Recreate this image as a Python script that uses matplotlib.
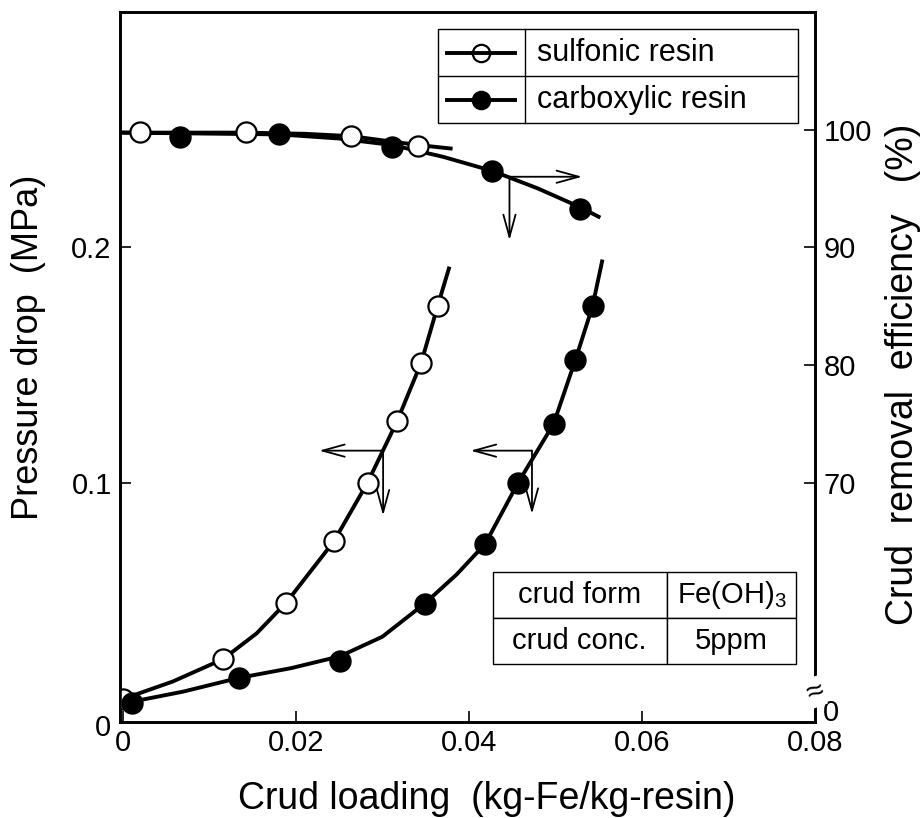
import matplotlib
matplotlib.use("Agg")
import matplotlib.pyplot as plt
from matplotlib.patches import Rectangle
from matplotlib.lines import Line2D

plt.rcParams["font.family"] = ["Liberation Sans", "DejaVu Sans"]
plt.rcParams["mathtext.fontset"] = "custom"
plt.rcParams["mathtext.rm"] = "Liberation Sans"

# pressure drop (left axis) vs crud loading
sulf_load = [0.0, 0.0116, 0.0189, 0.0244, 0.0283, 0.0317, 0.0345, 0.0364]
sulf_dp = [0.008, 0.025, 0.049, 0.075, 0.100, 0.126, 0.151, 0.175]
carb_load = [0.0011, 0.0134, 0.0251, 0.0349, 0.0419, 0.0457, 0.0498, 0.0523, 0.0543]
carb_dp = [0.0065, 0.017, 0.024, 0.0486, 0.074, 0.100, 0.125, 0.152, 0.175]

# crud removal efficiency (right axis)
sulf_eff_load = [0.0020, 0.0142, 0.0264, 0.0341]
sulf_eff = [99.8, 99.8, 99.5, 98.6]
carb_eff_load = [0.0066, 0.0181, 0.0311, 0.0427, 0.0529]
carb_eff = [99.4, 99.6, 98.5, 96.5, 93.3]

# fitted curves as drawn in the figure (traced vertices)
sulf_dp_fit_x = [0.0, 0.0058, 0.0116, 0.0155, 0.0189, 0.0244, 0.0283, 0.0317, 0.0345, 0.0364, 0.0377]
sulf_dp_fit_y = [0.008, 0.0155, 0.025, 0.036, 0.049, 0.075, 0.100, 0.126, 0.151, 0.175, 0.191]
carb_dp_fit_x = [0.0005, 0.0070, 0.0134, 0.0195, 0.0251, 0.0300, 0.0349, 0.0386, 0.0419, 0.0457,
                 0.0498, 0.0523, 0.0543, 0.0554]
carb_dp_fit_y = [0.0065, 0.0112, 0.017, 0.0212, 0.0262, 0.0345, 0.0486, 0.061, 0.074, 0.100,
                 0.125, 0.152, 0.175, 0.194]
sulf_eff_fit_x = [0.0, 0.0142, 0.0210, 0.0264, 0.0341, 0.0379]
sulf_eff_fit_y = [99.75, 99.75, 99.65, 99.45, 98.7, 98.4]
carb_eff_fit_x = [0.0, 0.0181, 0.0250, 0.0311, 0.0370, 0.0427, 0.0480, 0.0529, 0.0550]
carb_eff_fit_y = [99.75, 99.6, 99.25, 98.7, 97.7, 96.5, 95.0, 93.4, 92.6]

# direction arrows (corner, tip) in loading / pressure units
arrows = [
    ((0.0447, 0.230), (0.0531, 0.230)),
    ((0.0447, 0.230), (0.0447, 0.203)),
    ((0.0301, 0.1136), (0.0227, 0.1136)),
    ((0.0301, 0.1136), (0.0301, 0.086)),
    ((0.0473, 0.1136), (0.0402, 0.1136)),
    ((0.0473, 0.1136), (0.0473, 0.0867)),
]

series_labels = ["sulfonic resin", "carboxylic resin"]
cond_rows = [["crud form", "Fe(OH)$_3$"], ["crud conc.", "5ppm"]]

x_ticks = [0, 0.02, 0.04, 0.06, 0.08]
dp_ticks = [0.1, 0.2]
eff_ticks = [70, 80, 90, 100]

fig = plt.figure(figsize=(9.24, 8.18), dpi=100)
ax = fig.add_axes([0.1299, 0.1174, 0.8820 - 0.1299, 0.9853 - 0.1174])
ax2 = ax.twinx()

ax.set_xlim(-0.0003, 0.08)
ax.set_ylim(-0.0017, 0.3)
ax2.set_ylim(50 + 200 * -0.0017, 50 + 200 * 0.3)

lw = 2.8
ms = 14.5
open_kw = dict(marker="o", ms=ms, mfc="white", mec="black", mew=1.6, ls="none", zorder=5)
fill_kw = dict(marker="o", ms=ms, mfc="black", mec="black", mew=1.6, ls="none", zorder=5)

ax.plot(sulf_dp_fit_x, sulf_dp_fit_y, color="black", lw=lw, solid_joinstyle="round")
ax.plot(carb_dp_fit_x, carb_dp_fit_y, color="black", lw=lw, solid_joinstyle="round")
ax.plot(sulf_load, sulf_dp, **open_kw)
ax.plot(carb_load, carb_dp, **fill_kw)

ax2.plot(carb_eff_fit_x, carb_eff_fit_y, color="black", lw=lw, solid_joinstyle="round")
ax2.plot(sulf_eff_fit_x, sulf_eff_fit_y, color="black", lw=lw, solid_joinstyle="round")
ax2.plot(carb_eff_load, carb_eff, **fill_kw)
ax2.plot(sulf_eff_load, sulf_eff, **open_kw)

for start, end in arrows:
    ax2.annotate("", xy=end, xytext=start, xycoords=ax.transData, textcoords=ax.transData,
                 arrowprops=dict(arrowstyle="->,head_length=0.8,head_width=0.22",
                                 lw=1.3, color="black", mutation_scale=20,
                                 shrinkA=0, shrinkB=0))

# ticks and spines
for a in (ax, ax2):
    for s in a.spines.values():
        s.set_linewidth(1.9)
ax.set_xticks(x_ticks)
ax.set_xticklabels(["0", "0.02", "0.04", "0.06", "0.08"])
ax.set_yticks(dp_ticks)
ax.set_yticklabels(["0.1", "0.2"])
ax2.set_yticks(eff_ticks)
ax.tick_params(axis="both", direction="in", length=8, width=1.2, labelsize=21, pad=6)
ax.tick_params(axis="x", pad=5)
ax2.tick_params(axis="y", direction="in", length=8, width=1.2, labelsize=21, pad=6)

ax.text(-0.0245, -0.0085, "0", transform=ax.transAxes, ha="center", va="center", fontsize=21)
ax2.text(1.012, 0.0127, "0", transform=ax2.transAxes, ha="left", va="center", fontsize=21)
ax2.text(1.0, 0.042, "\u2248", transform=ax2.transAxes, ha="center", va="center",
         fontsize=22, rotation=20, bbox=dict(fc="white", ec="none", pad=0), zorder=10)

ax.set_xlabel("Crud loading  (kg-Fe/kg-resin)", fontsize=27, va="center")
ax.xaxis.set_label_coords(0.527, -0.108)
ax.set_ylabel("Pressure drop  (MPa)", fontsize=26, va="center")
ax.yaxis.set_label_coords(-0.131, 0.528)
ax2.set_ylabel("Crud  removal  efficiency   (%)", fontsize=27, va="center", rotation=90)
ax2.yaxis.set_label_coords(1.126, 0.49)

# legend drawn as a small bordered table
lx0, lx1, lxm = 0.457, 0.976, 0.5827
ly0, ly1, lym = 0.8432, 0.9756, 0.9099
ax2.add_patch(Rectangle((lx0, ly0), lx1 - lx0, ly1 - ly0, transform=ax2.transAxes,
                        fill=False, ec="black", lw=1.0, zorder=6))
ax2.add_line(Line2D([lxm, lxm], [ly0, ly1], transform=ax2.transAxes, color="black", lw=1.0, zorder=6))
ax2.add_line(Line2D([lx0, lx1], [lym, lym], transform=ax2.transAxes, color="black", lw=1.0, zorder=6))
row_y = [(ly1 + lym) / 2, (lym + ly0) / 2]
for yy, lab, kw in zip(row_y, series_labels, [open_kw, fill_kw]):
    ax2.add_line(Line2D([0.470, 0.568], [yy, yy], transform=ax2.transAxes, color="black", lw=lw, zorder=6))
    mk = dict(kw)
    mk.pop("ls")
    mk["ms"] = 12.5
    ax2.add_line(Line2D([0.519], [yy], transform=ax2.transAxes, ls="none", **mk))
    ax2.text(0.600, yy, lab, transform=ax2.transAxes, ha="left", va="center", fontsize=22, zorder=7)

# condition table
tbl = ax2.table(cellText=cond_rows, cellLoc="center", colWidths=[0.574, 0.426],
                bbox=[0.536, 0.0817, 0.437, 0.13], zorder=6)
tbl.auto_set_font_size(False)
tbl.set_fontsize(21)
for cell in tbl.get_celld().values():
    cell.set_linewidth(1.0)
    cell.set_facecolor("white")

fig.savefig("out.png", dpi=100)
